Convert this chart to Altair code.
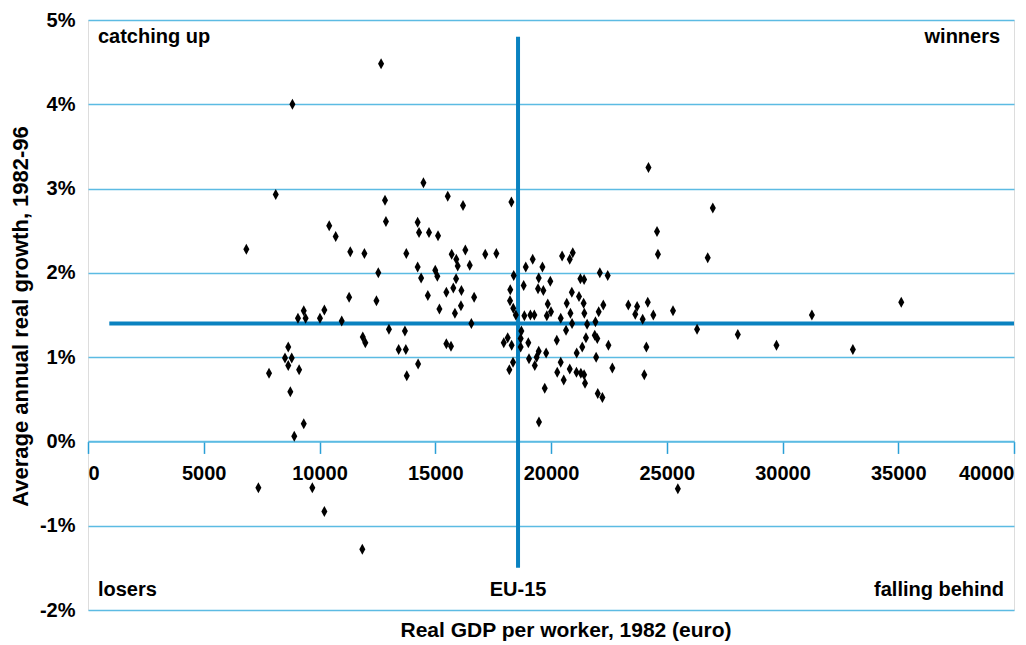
import altair as alt
import pandas as pd

# Real GDP per worker 1982 (euro) and average annual real growth 1982-96 (%)
gdp = [
    8830, 8110, 10420, 10700, 6840, 11330, 11940, 12540, 11280, 12460,
    9320, 10210, 9070, 9400, 10020, 10960, 11870, 11980, 8650, 8510,
    8800, 8650, 7820, 9120, 8740, 9320, 8910, 7360, 9690, 10210, 11850,
    12660, 24210, 14490, 12830, 15540, 16200, 18290, 12870, 14240, 14300,
    14730, 15120, 24580, 24620, 13750, 15710, 15910, 16300, 15970, 16490,
    17160, 17640, 14240, 14390, 15000, 15090, 15900, 14680, 15480, 15780,
    16130, 16680, 15180, 16110, 15850, 16560, 18390, 18240, 18230, 18370,
    18480, 18820, 18910, 19210, 19630, 19470, 19440, 19670, 19970, 20480,
    20810, 20940, 19860, 20000, 19820, 18850, 19110, 19280, 20420, 20680,
    20900, 20840, 20910, 21210, 21410, 21440, 21270, 21430, 22110, 22450,
    22260, 22060, 21560, 21920, 23340, 23720, 23640, 24180, 23960, 24420,
    25270, 13000, 13690, 13420, 13730, 13770, 14260, 15480, 15680, 17960,
    18130, 18300, 18720, 18690, 18690, 18360, 18200, 19020, 19470, 19380,
    19050, 19300, 19790, 19730, 19480, 20250, 20650, 20420, 20270, 20550,
    20810, 21110, 21350, 21510, 21100, 21290, 21430, 21470, 21890, 22000,
    21950, 22480, 22650, 22020, 22220, 24120, 24030, 25480,
    26990, 26770, 26310, 28070, 29740, 31270, 33040, 35130,
]
growth = [
    4.00, 2.93, 2.56, 2.43, 2.28, 2.25, 2.23, 2.00, 1.71, 1.67,
    1.55, 1.56, 1.46, 1.46, 1.46, 1.43, 1.24, 1.17, 1.12, 0.99,
    0.99, 0.90, 0.81, 0.85, 0.59, 0.21, 0.06, -0.55, -0.55, -0.83, -1.28,
    4.48, 3.25, 3.07, 2.86, 2.91, 2.80, 2.84, 2.61, 2.60, 2.48,
    2.48, 2.44, 2.49, 2.22, 2.23, 2.22, 2.16, 2.27, 2.08, 2.09,
    2.22, 2.23, 2.07, 1.94, 2.03, 1.96, 1.93, 1.73, 1.77, 1.82,
    1.79, 1.71, 1.57, 1.61, 1.52, 1.40, 1.97, 1.80, 1.67, 1.58,
    1.50, 1.85, 2.07, 2.16, 2.07, 1.94, 1.81, 1.79, 1.90, 2.20,
    2.16, 2.24, 1.63, 1.54, 1.49, 1.49, 1.50, 1.50, 1.46, 1.64,
    1.77, 1.52, 1.40, 1.72, 1.64, 1.52, 1.93, 1.92, 2.00, 1.97,
    1.62, 1.54, 1.39, 1.42, 1.62, 1.60, 1.51, 1.65, 1.45, 1.50,
    1.55, 1.33, 1.31, 1.09, 1.09, 0.78, 0.92, 1.16, 1.13, 1.17,
    1.23, 1.14, 1.31, 1.22, 1.12, 0.94, 0.85, 1.17, 1.07, 1.00,
    0.98, 0.90, 1.05, 0.63, 0.23, 1.20, 1.32, 0.94, 0.82, 0.73,
    0.86, 1.05, 1.12, 1.23, 0.82, 0.81, 0.79, 0.69, 1.26, 1.22,
    1.00, 1.14, 0.87, 0.57, 0.52, 1.12, 0.79, -0.56,
    2.77, 2.18, 1.33, 1.27, 1.14, 1.50, 1.09, 1.65,
]

# EU-15 reference lines
eu_gdp = 18576
eu_growth = 1.40
vline_from, vline_to = -1.5, 4.8
hline_from, hline_to = 920, 40000

x_ticks = [0, 5000, 10000, 15000, 20000, 25000, 30000, 35000, 40000]
y_ticks = [-2, -1, 0, 1, 2, 3, 4, 5]

# quadrant annotations
ann_text = ["catching up", "winners", "losers", "EU-15", "falling behind"]
ann_x = [430, 39400, 430, eu_gdp, 39570]
ann_y = [4.80, 4.80, -1.76, -1.76, -1.76]
ann_align = ["left", "right", "left", "center", "right"]

x_title = "Real GDP per worker, 1982 (euro)"
y_title = "Average annual real growth, 1982-96"

FONT = "Liberation Sans"
BLUE = "#0a82c0"
GRID = "#5cbbe3"
BG = "#d4ebf9"

W, H = 926, 590

pts_df = pd.DataFrame({"gdp": gdp, "growth": growth})
ann_df = pd.DataFrame({"label": ann_text, "gdp": ann_x, "growth": ann_y, "align": ann_align})
vline_df = pd.DataFrame({"gdp": [eu_gdp], "g1": [vline_from], "g2": [vline_to]})
hline_df = pd.DataFrame({"x1": [hline_from], "x2": [hline_to], "growth": [eu_growth]})
xt_df = pd.DataFrame({"label": [x_title], "gdp": [20650], "growth": [-2.25]})

xscale = alt.Scale(domain=[0, 40000], nice=False, zero=False)
yscale = alt.Scale(domain=[-2, 5], nice=False, zero=False)

y0_offset = -(H - 5 * H / 7)

points = alt.Chart(pts_df).mark_point(
    shape="M0,-1L0.55,0L0,1L-0.55,0Z", filled=True, color="black",
    size=121, opacity=1, strokeWidth=0,
).encode(
    x=alt.X("gdp:Q", scale=xscale, axis=alt.Axis(
        values=x_ticks, format="d", offset=y0_offset, grid=False,
        domain=True, domainColor=GRID, domainWidth=1.5,
        ticks=True, tickColor="#2a9fd6", tickSize=12, tickWidth=1.5,
        labelFontSize=20, labelFontWeight="bold", labelColor="black",
        labelPadding=10, labelFlush=True, title=None, labelFont=FONT,
    )),
    y=alt.Y("growth:Q", scale=yscale, axis=alt.Axis(
        values=y_ticks, labelExpr="datum.value + '%'", grid=True,
        gridColor=GRID, gridWidth=1.5, gridOpacity=1, ticks=False, domain=False,
        labelFontSize=20, labelFontWeight="bold", labelColor="black",
        labelPadding=13, labelFont=FONT,
        title=y_title, titleFont=FONT, titleFontSize=22, titleFontWeight="bold",
        titleColor="black", titleX=-68, titleY=296, titleAngle=270,
        titleAlign="center", titleBaseline="middle",
    )),
)

vline = alt.Chart(vline_df).mark_rule(color=BLUE, strokeWidth=4).encode(
    x=alt.X("gdp:Q", scale=xscale), y=alt.Y("g1:Q", scale=yscale), y2="g2:Q"
)
hline = alt.Chart(hline_df).mark_rule(color=BLUE, strokeWidth=4).encode(
    x=alt.X("x1:Q", scale=xscale), x2="x2:Q", y=alt.Y("growth:Q", scale=yscale)
)

def ann_layer(al):
    return alt.Chart(ann_df).transform_filter(
        alt.datum.align == al
    ).mark_text(align=al, baseline="middle", font=FONT, fontSize=20,
                fontWeight="bold", color="black").encode(
        x=alt.X("gdp:Q", scale=xscale), y=alt.Y("growth:Q", scale=yscale), text="label:N"
    )

xtitle = alt.Chart(xt_df).mark_text(
    align="center", baseline="middle", font=FONT, fontSize=21,
    fontWeight="bold", color="black"
).encode(x=alt.X("gdp:Q", scale=xscale), y=alt.Y("growth:Q", scale=yscale), text="label:N")

chart = alt.layer(
    hline, vline, points, ann_layer("left"), ann_layer("right"), ann_layer("center"), xtitle
).properties(
    width=W, height=H,
    autosize=alt.AutoSizeParams(type="none"),
    padding={"left": 80, "top": 12, "right": 4, "bottom": 36},
).configure_view(fill=BG, strokeWidth=0).configure(font=FONT)

chart.save("out.html", embed_options={"renderer": "svg", "actions": False})
